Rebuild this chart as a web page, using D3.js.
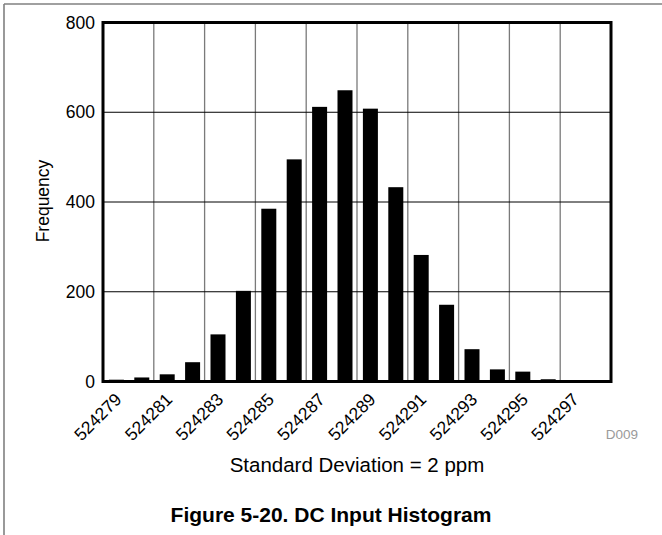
<!DOCTYPE html>
<html><head><meta charset="utf-8">
<script src="https://cdn.jsdelivr.net/npm/d3@7"></script>
<style>body{margin:0;background:#fff}svg{display:block}text{font-family:"Liberation Sans",Arial,sans-serif}</style>
</head><body>
<svg id="c" width="662" height="535"></svg>
<script>
const codes = [524279,524280,524281,524282,524283,524284,524285,524286,524287,524288,524289,524290,524291,524292,524293,524294,524295,524296];
const counts = [4,9,16,43,105,202,385,495,612,649,608,433,282,171,72,27,22,5];
const xTickLabels = ["524279","524281","524283","524285","524287","524289","524291","524293","524295","524297"];
const yTicks = [0,200,400,600,800];

const svg = d3.select("#c");
const L=103, R=611, T=22.5, B=381.5;
const x = d3.scaleLinear().domain([524278.5, 524298.5]).range([L,R]);
const y = d3.scaleLinear().domain([0,800]).range([B,T]);

// outer border
svg.append("line").attr("x1",4).attr("x2",662).attr("y1",4).attr("y2",4).attr("stroke","#808080").attr("stroke-width",1.6);
svg.append("line").attr("x1",4).attr("x2",4).attr("y1",4).attr("y2",535).attr("stroke","#808080").attr("stroke-width",1.6);

// vertical gridlines
const vg = d3.range(524280.5, 524298, 2);
svg.selectAll(".vg").data(vg).enter().append("line")
  .attr("x1",d=>x(d)).attr("x2",d=>x(d)).attr("y1",T).attr("y2",B)
  .attr("stroke","#7a7a7a").attr("stroke-width",1.3);
// horizontal gridlines
svg.selectAll(".hg").data(yTicks.slice(1,-1)).enter().append("line")
  .attr("x1",L).attr("x2",R).attr("y1",d=>y(d)).attr("y2",d=>y(d))
  .attr("stroke","#000").attr("stroke-width",1);

// bars
const bw = 15;
svg.selectAll(".bar").data(codes).enter().append("rect")
  .attr("x",(d)=>x(d)-bw/2+0.7).attr("width",bw)
  .attr("y",(d,i)=>y(counts[i])).attr("height",(d,i)=>B-y(counts[i]))
  .attr("fill","#000");

// frame
svg.append("rect").attr("x",L).attr("y",T).attr("width",R-L).attr("height",B-T)
  .attr("fill","none").attr("stroke","#000").attr("stroke-width",3);

// y tick labels
svg.selectAll(".yl").data(yTicks).enter().append("text")
  .attr("x",95).attr("y",d=>y(d)).attr("dy","0.35em").attr("text-anchor","end")
  .attr("font-size",17.5).attr("fill","#000").text(d=>d);

// x tick labels
svg.selectAll(".xl").data(xTickLabels).enter().append("text")
  .attr("transform",d=>`translate(${x(+d)+7},${B+19}) rotate(-45)`)
  .attr("text-anchor","end").attr("font-size",17.5).attr("fill","#000").text(d=>d);

// axis titles
svg.append("text").attr("transform","translate(49,201) rotate(-90)").attr("text-anchor","middle")
  .attr("font-size",17.5).text("Frequency");
svg.append("text").attr("x",357).attr("y",472).attr("text-anchor","middle")
  .attr("font-size",20.5).text("Standard Deviation = 2 ppm");
svg.append("text").attr("x",622).attr("y",439).attr("text-anchor","middle")
  .attr("font-size",13.5).attr("fill","#9a9a9a").text("D009");
svg.append("text").attr("x",331).attr("y",522).attr("text-anchor","middle")
  .attr("font-size",21).attr("font-weight","bold").text("Figure 5-20. DC Input Histogram");
</script>
</body></html>
